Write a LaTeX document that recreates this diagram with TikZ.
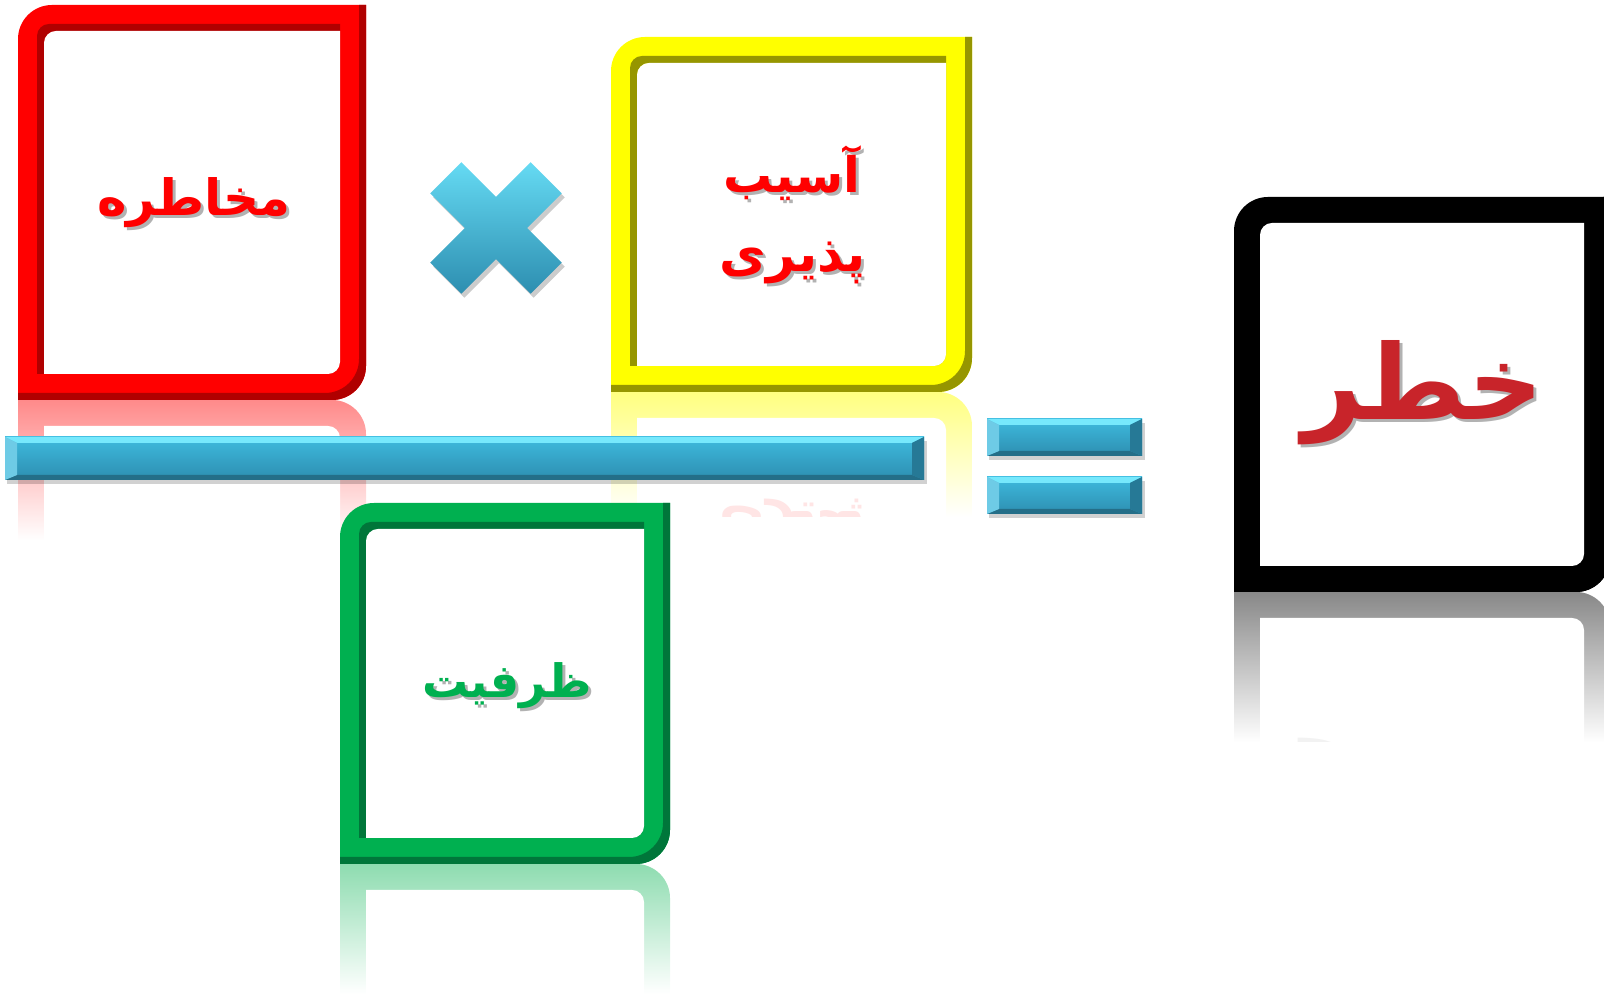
\documentclass[tikz,border=0pt]{standalone}
\usepackage{fontspec}
\usepackage{tikz}
\TeXXeTstate=1
\newfontfamily\farsifont[Script=Arabic]{DejaVu Sans}

\definecolor{hazardred}{RGB}{255, 0, 0}
\definecolor{hazarddark}{RGB}{176, 0, 0}
\definecolor{hazardglow}{RGB}{255, 138, 138}
\definecolor{vulnyellow}{RGB}{255, 255, 0}
\definecolor{vulndark}{RGB}{150, 150, 0}
\definecolor{vulnglow}{RGB}{255, 255, 128}
\definecolor{capgreen}{RGB}{0, 176, 80}
\definecolor{capdark}{RGB}{0, 118, 58}
\definecolor{capglow}{RGB}{142, 220, 176}
\definecolor{riskblack}{RGB}{0, 0, 0}
\definecolor{riskglow}{RGB}{136, 136, 136}
\definecolor{risktext}{RGB}{200, 36, 42}
\definecolor{barmid}{RGB}{62, 186, 222}
\definecolor{barlow}{RGB}{45, 142, 176}
\definecolor{barlight}{RGB}{118, 232, 252}
\definecolor{bardark}{RGB}{36, 110, 136}

% frame outline: x1, top, x2, bottom, radius (round top-left and bottom-right)
\newcommand{\framepath}[5]{(#1,#4) -- (#1,#2-#5) arc[start angle=180, end angle=90, radius=#5]
  -- (#3,#2) -- (#3,#4+#5) arc[start angle=0, end angle=-90, radius=#5] -- cycle}

% thick bevelled frame
\newcommand{\riskframe}[6]{%
  \fill[#5] \framepath{#1}{#2}{#3}{#4}{34};
  \begin{scope}
    \clip \framepath{#1}{#2}{#3}{#4}{34};
    \fill[#6, even odd rule] (#1-60,#4-60) rectangle (#3+60,#2+60) \framepath{#1-7}{#2+7}{#3-7}{#4+7}{34};
    \fill[#6, even odd rule] \framepath{#1+19}{#2-19}{#3-26}{#4+26}{12} \framepath{#1+26}{#2-26}{#3-26}{#4+26}{12};
  \end{scope}
  \fill[white] \framepath{#1+26}{#2-26}{#3-26}{#4+26}{12};}

% faded mirror image under a frame
\newcommand{\riskmirror}[7]{%
  \begin{scope}[shift={(0,2*#4)}, yscale=-1]
    \clip \framepath{#1}{#2}{#3}{#4}{34};
    \shade[top color=#5, bottom color=white] (#1-5,#4) rectangle (#3+5,#4+#6);
    \fill[white] \framepath{#1+26}{#2-26}{#3-26}{#4+26}{12};
    \clip (#1,#4) rectangle (#3,#4+#6);
    #7
  \end{scope}}

% bevelled blue bar: x1, top, x2, bottom
\newcommand{\bevelbar}[4]{%
  \fill[black, opacity=0.18] (#1+2,#4-4) rectangle (#3+3,#2-4);
  \shade[top color=barmid, bottom color=barlow] (#1,#4) rectangle (#3,#2);
  \fill[barlight] (#1,#2) -- (#3,#2) -- (#3-12,#2-6) -- (#1+12,#2-6) -- cycle;
  \fill[bardark] (#1,#4) -- (#3,#4) -- (#3-12,#4+5) -- (#1+12,#4+5) -- cycle;
  \fill[barmid!75!white] (#1,#2) -- (#1+12,#2-6) -- (#1+12,#4+5) -- (#1,#4) -- cycle;
  \fill[barlow!85!black] (#3,#2) -- (#3-12,#2-6) -- (#3-12,#4+5) -- (#3,#4) -- cycle;}

\begin{document}
\begin{tikzpicture}[x=1pt, y=1pt,
    wordtext/.style={font=\farsifont\bfseries\fontsize{#1}{#1}\selectfont, anchor=base, inner sep=0pt},
    wordtext/.default=50,
    shadowtext/.style={text=black!30}]

  % canvas
  \useasboundingbox (0,0) rectangle (1604,1000);
  \clip (0,0) rectangle (1604,1000);

  % reflections under the frames
  \riskmirror{18}{995}{366}{600}{hazardglow}{140}{}
  \riskmirror{611}{963}{972}{608}{vulnglow}{125}{%
    \node[wordtext=51, text=hazardred!10, transform shape] (vulnecho) at (793,728) {\beginR پذیری\endR};}
  \riskmirror{1234}{803}{1610}{408}{riskglow}{150}{%
    \node[wordtext=104, text=black!5, transform shape] (riskecho) at (1423,580) {\beginR خطر\endR};}
  \riskmirror{340}{497}{670}{136}{capglow}{130}{}

  % frames
  \riskframe{18}{995}{366}{600}{hazardred}{hazarddark}
  \riskframe{611}{963}{972}{608}{vulnyellow}{vulndark}
  \riskframe{1234}{803}{1610}{408}{riskblack}{riskblack}
  \riskframe{340}{497}{670}{136}{capgreen}{capdark}

  % fraction bar and equals sign
  \bevelbar{5}{563}{924}{520}
  \foreach \ytop in {581, 523} {
    \bevelbar{987}{\ytop}{1142}{\ytop-37}
  }

  % multiplication sign
  \fill[black, opacity=0.2, shift={(499,768)}, rotate=45]
    (-22,71) -- (22,71) -- (22,22) -- (71,22) -- (71,-22) -- (22,-22) -- (22,-71)
    -- (-22,-71) -- (-22,-22) -- (-71,-22) -- (-71,22) -- (-22,22) -- cycle;
  \shade[top color=barlight!70!barmid, bottom color=barlow, shift={(496,772)}, rotate=45]
    (-22,71) -- (22,71) -- (22,22) -- (71,22) -- (71,-22) -- (22,-22) -- (22,-71)
    -- (-22,-71) -- (-22,-22) -- (-71,-22) -- (-71,22) -- (-22,22) -- cycle;

  % words
  \node[wordtext=50, shadowtext] (hazardshade) at (197,781) {\beginR مخاطره\endR};
  \node[wordtext=50, text=hazardred] (hazard) at (194,784) {\beginR مخاطره\endR};
  \node[wordtext=49, shadowtext] (vulntopshade) at (795,804) {\beginR آسیب\endR};
  \node[wordtext=49, text=hazardred] (vulntop) at (792,807) {\beginR آسیب\endR};
  \node[wordtext=51, shadowtext] (vulnbotshade) at (796,725) {\beginR پذیری\endR};
  \node[wordtext=51, text=hazardred] (vulnbot) at (793,728) {\beginR پذیری\endR};
  \node[wordtext=46, shadowtext] (capshade) at (510,299) {\beginR ظرفیت\endR};
  \node[wordtext=46, text=capgreen] (capacity) at (507,302) {\beginR ظرفیت\endR};
  \node[wordtext=104, shadowtext] (riskshade) at (1426,577) {\beginR خطر\endR};
  \node[wordtext=104, text=risktext] (risk) at (1423,580) {\beginR خطر\endR};
\end{tikzpicture}
\end{document}
